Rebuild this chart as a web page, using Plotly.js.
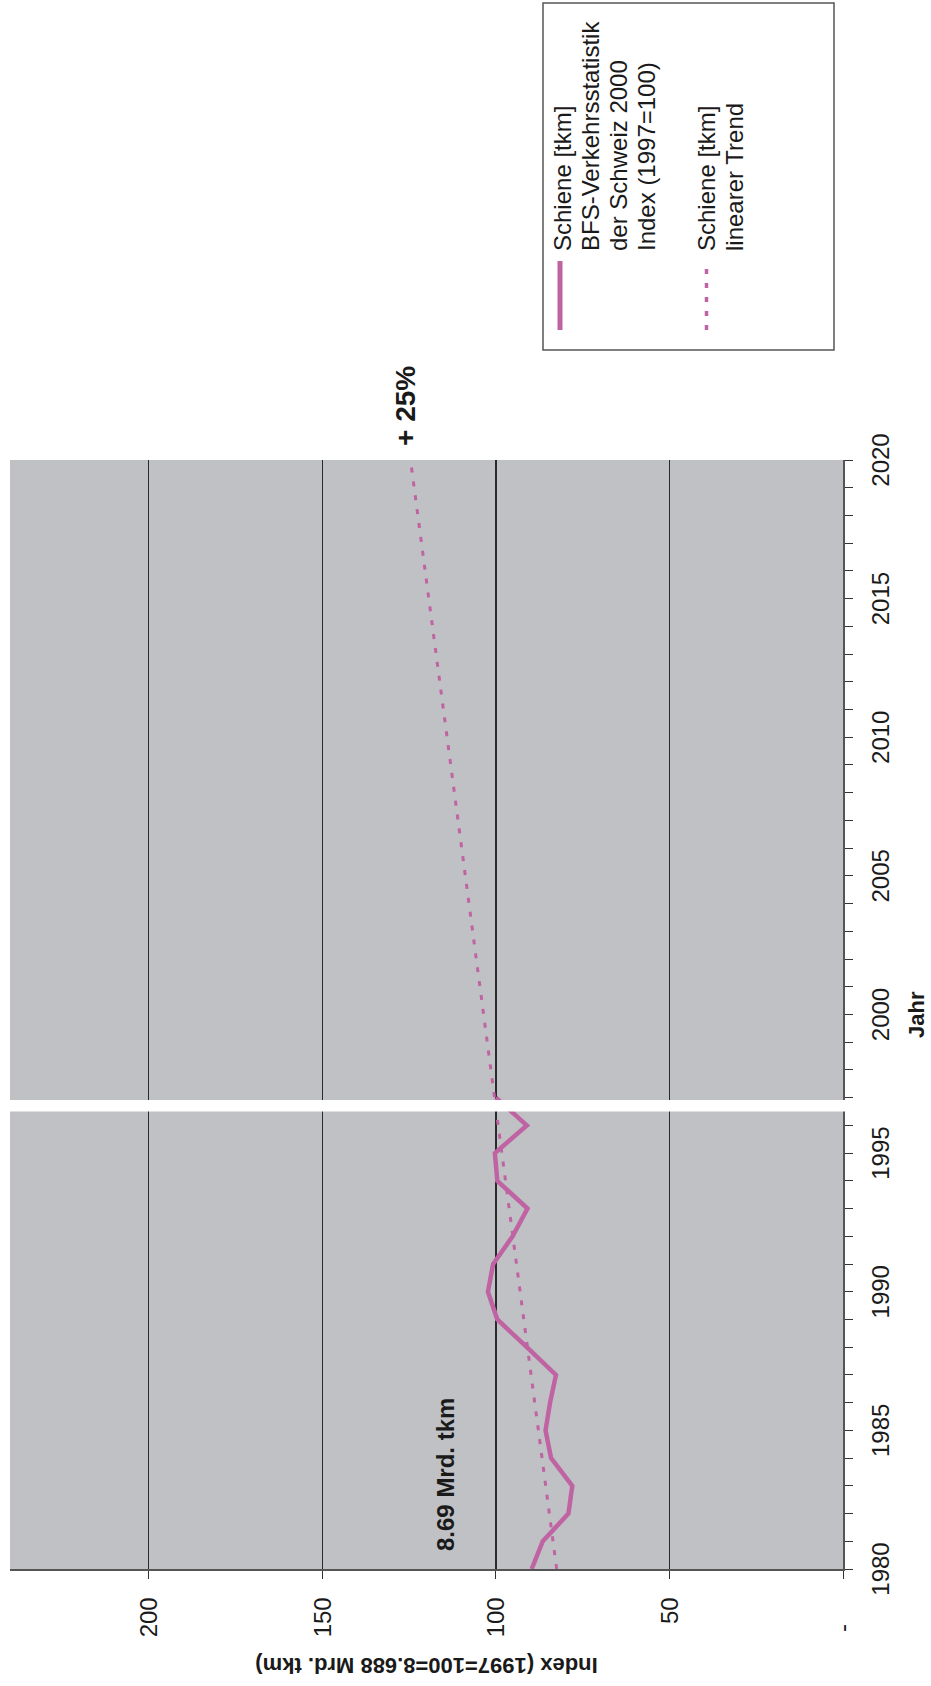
<!DOCTYPE html>
<html>
<head>
<meta charset="utf-8">
<script src="https://cdn.plot.ly/plotly-3.0.1.min.js"></script>
<style>
  html, body { margin: 0; padding: 0; background: #ffffff; overflow: hidden; width: 931px; height: 1686px; }
  #chart { position: absolute; left: 0; top: 0; width: 1686px; height: 931px;
           transform-origin: 0 0; transform: translate(0px, 1686px) rotate(-90deg); }
</style>
</head>
<body>
<div id="chart"></div>
<script>
// ---- data ----
const years = [1980, 1981, 1982, 1983, 1984, 1985, 1986, 1987, 1988, 1989, 1990, 1991, 1992, 1993, 1994, 1995, 1996, 1997];
const railIndex = [89.7, 86.5, 79.1, 78.0, 84.1, 85.7, 84.4, 82.7, 91.1, 99.6, 102.3, 100.8, 95.2, 90.9, 99.6, 100.3, 91.1, 100.0];
const trendYears = [1980, 2020];
const trendIndex = [82.5, 124.6];
const yearTicks = [1980, 1985, 1990, 1995, 2000, 2005, 2010, 2015, 2020];
const indexTicks = [0, 50, 100, 150, 200];
const indexTickText = ["-\u00a0\u00a0\u00a0\u00a0", "50", "100", "150", "200"];
const seriesNames = [
  ["Schiene [tkm]", "BFS-Verkehrsstatistik", "der Schweiz 2000", "Index (1997=100)"],
  ["Schiene [tkm]", "linearer Trend"]
];
const labelBase = "8.69 Mrd. tkm";
const labelGrowth = "+ 25%";
const xTitle = "Jahr";
const yTitle = "Index (1997=100=8.688 Mrd. tkm)";

// ---- style / geometry ----
const W = 1686, H = 931;
const M = { l: 117, r: 460, t: 10, b: 88 };
const PW = W - M.l - M.r, PH = H - M.t - M.b;
const px = x => (x - M.l) / PW;
const py = y => (H - M.b - y) / PH;
const lineColor = "#bf63a3";
const FONT = "Liberation Sans, Arial, sans-serif";
const txt = "#1a1a1a";

const traces = [
  { x: years, y: railIndex, type: "scatter", mode: "lines", name: seriesNames[0].join(" "),
    line: { color: lineColor, width: 4.5 }, showlegend: false, hoverinfo: "skip" },
  { x: trendYears, y: trendIndex, type: "scatter", mode: "lines", name: seriesNames[1].join(" "),
    line: { color: lineColor, width: 3, dash: "5px,9px" }, showlegend: false, hoverinfo: "skip" }
];

const shapes = [
  // white break between measured and projected period
  { type: "rect", xref: "x", yref: "paper", x0: 1996.5, x1: 1996.92, y0: -0.006, y1: 1.0,
    fillcolor: "#ffffff", line: { width: 0 }, layer: "above" },
  // legend box
  { type: "rect", xref: "paper", yref: "paper", x0: px(1336), x1: px(1683), y0: py(834), y1: py(543),
    fillcolor: "#ffffff", line: { color: "#555555", width: 1.5 } },
  { type: "line", xref: "paper", yref: "paper", x0: px(1356), x1: px(1425), y0: py(560), y1: py(560),
    line: { color: lineColor, width: 5 } },
  { type: "line", xref: "paper", yref: "paper", x0: px(1356), x1: px(1425), y0: py(706.5), y1: py(706.5),
    line: { color: lineColor, width: 3.5, dash: "5px,9px" } }
];

const annotations = [];
const legendLineY = [[562, 590, 618, 646], [706, 734]];
seriesNames.forEach((lines, i) => {
  lines.forEach((t, j) => {
    annotations.push({ xref: "paper", yref: "paper", x: px(1433), y: py(legendLineY[i][j]),
      xanchor: "left", yanchor: "middle", text: t, showarrow: false,
      font: { family: FONT, size: 24, color: txt } });
  });
});
annotations.push({ x: 1980, y: 114.4, xref: "x", yref: "y", xanchor: "left", yanchor: "middle", xshift: 16,
  text: "<b>" + labelBase + "</b>", showarrow: false, font: { family: FONT, size: 24, color: txt } });
annotations.push({ x: 2020, y: 126, xref: "x", yref: "y", xanchor: "left", yanchor: "middle", xshift: 12,
  text: "<b>" + labelGrowth + "</b>", showarrow: false, font: { family: FONT, size: 28, color: txt } });
// x-axis title placed as an annotation for exact position
annotations.push({ xref: "paper", yref: "paper", x: 0.5, y: py(916), xanchor: "center", yanchor: "middle",
  text: "<b>" + xTitle + "</b>", showarrow: false, font: { family: FONT, size: 22, color: txt } });

const layout = {
  width: W, height: H,
  margin: M,
  paper_bgcolor: "#ffffff",
  plot_bgcolor: "#c0c1c5",
  showlegend: false,
  font: { family: FONT, size: 24, color: txt },
  xaxis: {
    range: [1980, 2020], tickvals: yearTicks, ticks: "outside", ticklen: 8, tickcolor: "#333333",
    showline: true, linecolor: "#555555", linewidth: 1.5, showgrid: false, zeroline: false,
    ticklabelstandoff: 8,
    minor: { dtick: 1, tick0: 1980, ticks: "outside", ticklen: 8, tickcolor: "#333333", showgrid: false },
    tickfont: { family: FONT, size: 24, color: txt }
  },
  yaxis: {
    range: [0, 240], tickvals: indexTicks, ticktext: indexTickText, ticks: "outside", ticklen: 8,
    tickcolor: "#333333", showline: true, linecolor: "#555555", linewidth: 1.5,
    showgrid: true, gridcolor: "#2a2a2a", gridwidth: 1.2, zeroline: false,
    ticklabelstandoff: 14,
    tickfont: { family: FONT, size: 24, color: txt },
    title: { text: "<b>" + yTitle + "</b>", standoff: 14, font: { family: FONT, size: 22, color: txt } }
  },
  shapes: shapes,
  annotations: annotations
};

Plotly.newPlot("chart", traces, layout, { staticPlot: true, displayModeBar: false });
</script>
</body>
</html>
